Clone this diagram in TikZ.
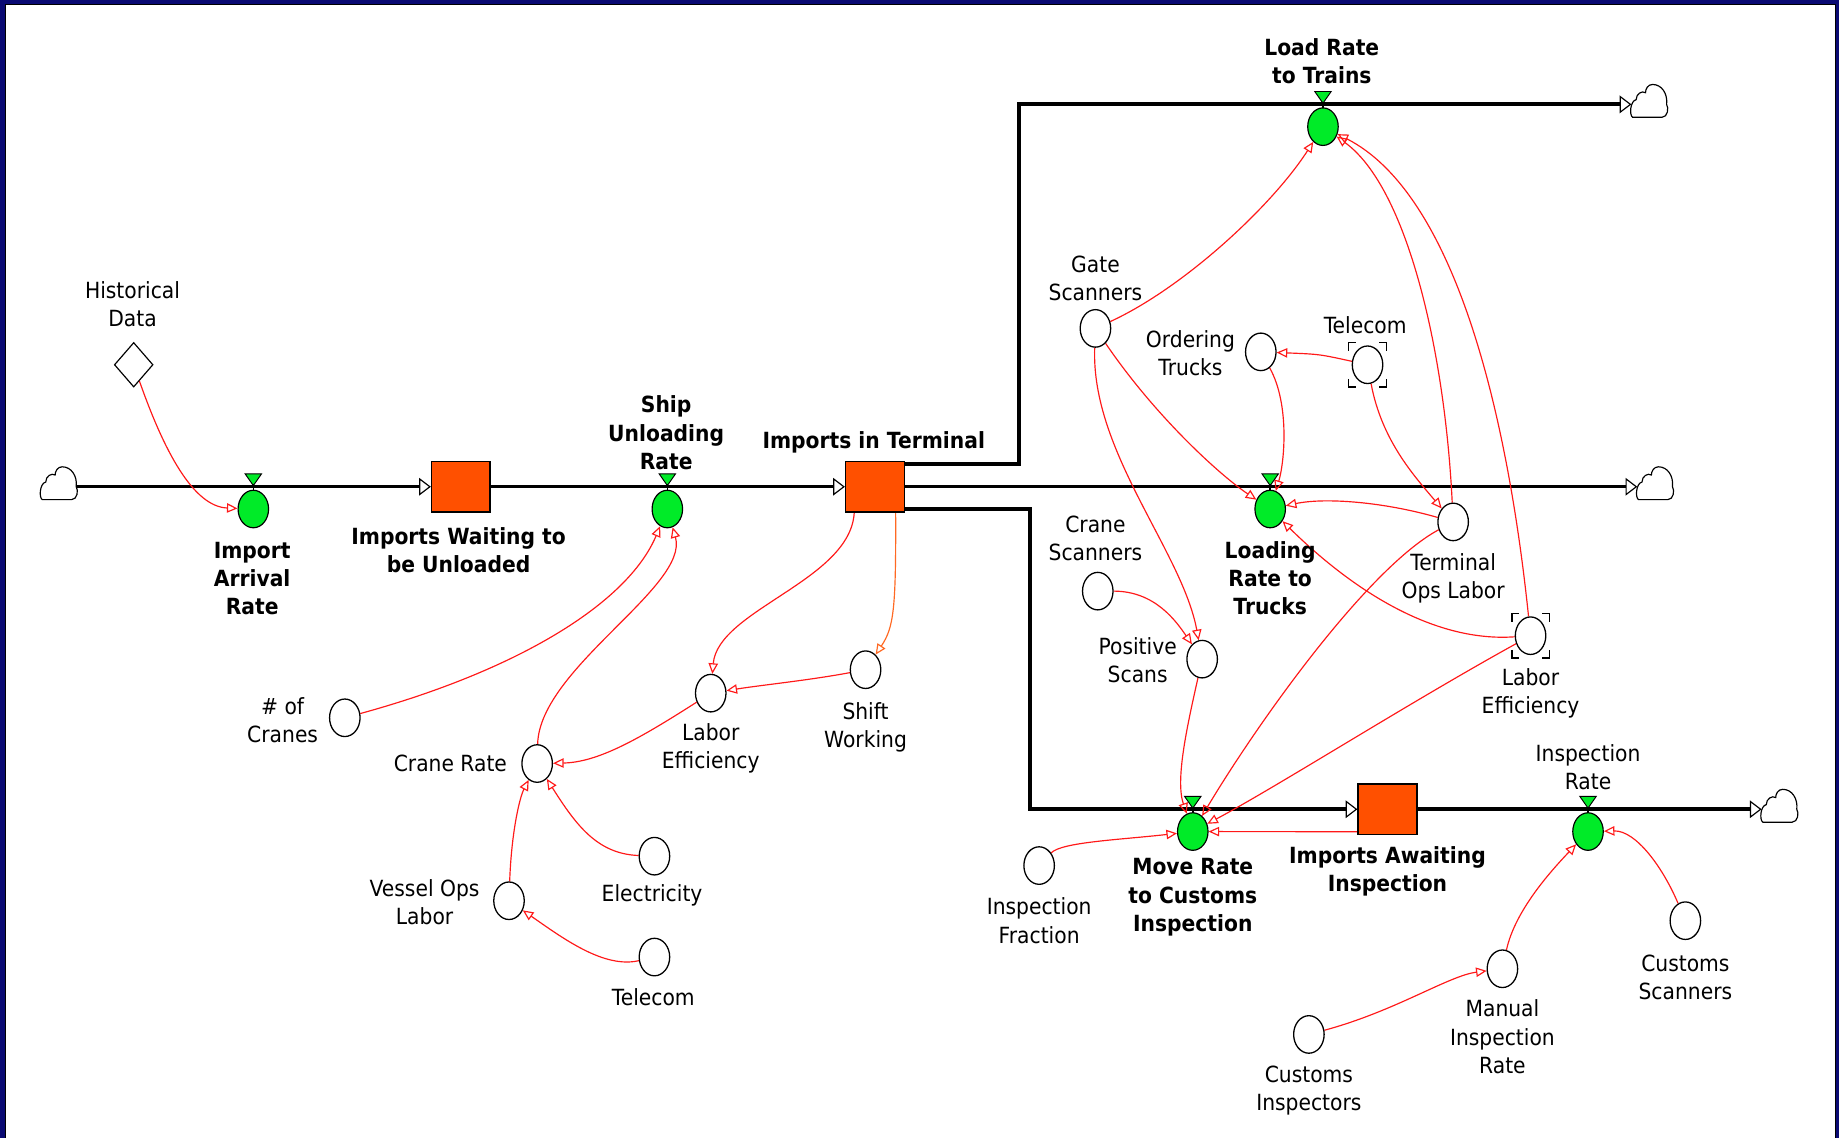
\documentclass[tikz,border=0pt]{standalone}
\usepackage{fontspec}
\setmainfont{DejaVu Sans}[FakeStretch=0.91]
\usetikzlibrary{arrows.meta,shapes.geometric,calc}
\definecolor{stockfill}{RGB}{255,80,0}
\definecolor{valvegreen}{RGB}{0,235,40}
\definecolor{framenavy}{RGB}{10,10,115}
\definecolor{linkred}{RGB}{255,25,25}
\definecolor{linkorange}{RGB}{255,105,35}
\pgfdeclarelayer{frame}
\pgfdeclarelayer{back}
\pgfsetlayers{frame,back,main}

\tikzset{
  valve/.pic={
    \draw[line width=0.8pt, fill=valvegreen] (-7,-11) -- (7,-11) -- (0,-1) -- cycle;
    \draw[line width=1.4pt] (0,-2) -- (0,5);
    \node[ellipse, draw, line width=1pt, fill=valvegreen, minimum width=26pt,
          minimum height=32pt, inner sep=0pt] (-b) at (0,19) {};
  },
  cloudsym/.pic={
    \draw[line width=1pt, fill=white] (-14,13) -- (11,13)
      .. controls (16,13) and (17,5) .. (15,2)
      .. controls (16,-7) and (11,-15) .. (3,-15)
      .. controls (-1,-15) and (-3,-11) .. (-3,-8)
      .. controls (-6,-10) and (-11,-7) .. (-11,-2)
      .. controls (-16,-1) and (-17,11) .. (-14,13) -- cycle;
    \coordinate (-w) at (-15,2);
    \coordinate (-e) at (16,2);
  },
  ghost/.pic={
    \draw[line width=1.2pt] (-16,-12) -- (-16,-19) -- (-10,-19);
    \draw[line width=1.2pt] (10,-19) -- (16,-19) -- (16,-12);
    \draw[line width=1.2pt] (-16,12) -- (-16,19) -- (-10,19);
    \draw[line width=1.2pt] (10,19) -- (16,19) -- (16,12);
  }
}

\begin{document}
\begin{tikzpicture}[x=1pt,y=-1pt,
  every node/.style={font=\fontsize{19}{24}\selectfont},
  lbl/.style={align=center, inner sep=0pt},
  blbl/.style={align=center, inner sep=0pt, font=\fontsize{19}{24}\selectfont\bfseries},
  auxv/.style={ellipse, draw, line width=1.1pt, fill=white, minimum width=26pt,
               minimum height=32pt, inner sep=0pt},
  stock/.style={rectangle, draw, line width=1.3pt, fill=stockfill,
                minimum width=50pt, minimum height=43pt, inner sep=0pt},
  flow/.style={line width=2.6pt, line join=miter,
               -{Triangle[length=10pt, width=15pt, fill=white, line width=1pt]}},
  flowthick/.style={flow, line width=3.4pt},
  link/.style={draw=linkred, line width=1pt,
               -{Triangle[open, length=9pt, width=8pt, line width=1pt]}}
]
\useasboundingbox (0,0) rectangle (1568,970);
\begin{pgfonlayer}{frame}
  \fill[framenavy] (0,0) rectangle (1568,970);
  \fill[white] (5,4) rectangle (1565,970);
  \draw[black, line width=1pt] (5,970) -- (5,4) -- (1565,4) -- (1565,970);
\end{pgfonlayer}

% ---------- stocks ----------
\node[stock] (iwu) at (393,415) {};
\node[stock] (iit) at (746,415) {};
\node[stock] (iai) at (1183,690) {};

% ---------- sources and sinks ----------
\pic (cl) at (50,413) {cloudsym};
\pic (ct) at (1406,87) {cloudsym};
\pic (cm) at (1411,413) {cloudsym};
\pic (cb) at (1517,688) {cloudsym};

% ---------- rates ----------
\pic (iar) at (216,415) {valve};
\pic (sur) at (569,415) {valve};
\pic (ltr) at (1128,89) {valve};
\pic (lrt) at (1083,415) {valve};
\pic (mrc) at (1017,690) {valve};
\pic (ir) at (1354,690) {valve};

% ---------- data and auxiliaries ----------
\node[diamond, draw, line width=1pt, fill=white, minimum width=33pt,
      minimum height=38pt, inner sep=0pt] (hd) at (114,311) {};
\node[auxv] (ncr) at (294,612) {};
\node[auxv] (cr) at (458,651) {};
\node[auxv] (le1) at (606,591) {};
\node[auxv] (sw) at (738,571) {};
\node[auxv] (el) at (558,730) {};
\node[auxv] (vol) at (434,768) {};
\node[auxv] (tel1) at (558,816) {};
\node[auxv] (gs) at (934,280) {};
\node[auxv] (ot) at (1075,300) {};
\node[auxv] (tel2) at (1166,311) {};
\node[auxv] (cs) at (936,504) {};
\node[auxv] (ps) at (1025,562) {};
\node[auxv] (tol) at (1239,445) {};
\node[auxv] (le2) at (1305,542) {};
\node[auxv] (ifr) at (886,738) {};
\node[auxv] (ci) at (1116,882) {};
\node[auxv] (mir) at (1281,826) {};
\node[auxv] (cus) at (1437,785) {};
\pic at (tel2) {ghost};
\pic at (le2) {ghost};

% ---------- labels ----------
\node[lbl] (t-hd) at (113,259) {Historical\\Data};
\node[blbl] (t-iar) at (215,493) {Import\\Arrival\\Rate};
\node[blbl] (t-iwu) at (391,469) {Imports Waiting to\\be Unloaded};
\node[blbl] (t-sur) at (568,369) {Ship\\Unloading\\Rate};
\node[blbl] (t-iit) at (745,377) {Imports in Terminal};
\node[blbl] (t-ltr) at (1127,52) {Load Rate\\to Trains};
\node[blbl] (t-lrt) at (1083,493) {Loading\\Rate to\\Trucks};
\node[blbl] (t-mrc) at (1017,765) {Move Rate\\to Customs\\Inspection};
\node[blbl] (t-iai) at (1183,743) {Imports Awaiting\\Inspection};
\node[lbl] (t-ir) at (1354,654) {Inspection\\Rate};
\node[lbl] (t-ncr) at (241,614) {\# of\\Cranes};
\node[lbl] (t-cr) at (384,651) {Crane Rate};
\node[lbl] (t-le1) at (606,638) {Labor\\Efficiency};
\node[lbl] (t-sw) at (738,620) {Shift\\Working};
\node[lbl] (t-el) at (556,763) {Electricity};
\node[lbl] (t-vol) at (362,769) {Vessel Ops\\Labor};
\node[lbl] (t-tel1) at (557,850) {Telecom};
\node[lbl] (t-gs) at (934,237) {Gate\\Scanners};
\node[lbl] (t-ot) at (1015,301) {Ordering\\Trucks};
\node[lbl] (t-tel2) at (1164,277) {Telecom};
\node[lbl] (t-cs) at (934,459) {Crane\\Scanners};
\node[lbl] (t-ps) at (970,563) {Positive\\Scans};
\node[lbl] (t-tol) at (1239,493) {Terminal\\Ops Labor};
\node[lbl] (t-le2) at (1305,591) {Labor\\Efficiency};
\node[lbl] (t-ifr) at (886,785) {Inspection\\Fraction};
\node[lbl] (t-ci) at (1116,930) {Customs\\Inspectors};
\node[lbl] (t-mir) at (1281,884) {Manual\\Inspection\\Rate};
\node[lbl] (t-cus) at (1437,833) {Customs\\Scanners};

% ---------- flows and links ----------
\begin{pgfonlayer}{back}
  \draw[flow] (cl-e) -- (iwu.west);
  \draw[flow] (iwu.east) -- (iit.west);
  \draw[flow] (iit.east) -- (cm-w);
  \draw[flowthick] ([yshift=-3pt]iit.north east) -| (869,89) -- (ct-w);
  \draw[flowthick] ([yshift=3pt]iit.south east) -| (878,690) -- (iai.west);
  \draw[flowthick] (iai.east) -- (cb-w);

  \draw[link] (hd) .. controls (140,385) and (165,432) .. (iar-b);
  \draw[link] (ncr) .. controls (440,572) and (535,515) .. (sur-b);
  \draw[link] (cr) .. controls (460,570) and (588,500) .. (sur-b);
  \draw[link] ([xshift=8pt]iit.south west) .. controls (725,495) and (612,520) .. (le1);
  \draw[link, draw=linkorange] ([xshift=-8pt]iit.south east) .. controls (764,520) and (762,535) .. (sw);
  \draw[link] (sw) .. controls (690,580) and (650,584) .. (le1);
  \draw[link] (le1) .. controls (545,630) and (510,650) .. (cr);
  \draw[link] (el) .. controls (510,728) and (492,705) .. (cr);
  \draw[link] (vol) .. controls (436,710) and (443,680) .. (cr);
  \draw[link] (tel1) .. controls (515,826) and (480,800) .. (vol);
  \draw[link] (gs) .. controls (1010,245) and (1085,175) .. (ltr-b);
  \draw[link] (gs) .. controls (985,355) and (1040,405) .. (lrt-b);
  \draw[link] (gs) .. controls (930,385) and (1008,470) .. (ps);
  \draw[link] (ot) .. controls (1100,345) and (1095,395) .. (lrt-b);
  \draw[link] (tel2) .. controls (1125,302) .. (ot);
  \draw[link] (tel2) .. controls (1178,375) and (1205,405) .. (tol);
  \draw[link] (tol) .. controls (1232,300) and (1200,160) .. (ltr-b);
  \draw[link] (le2) .. controls (1285,350) and (1240,165) .. (ltr-b);
  \draw[link] (tol) .. controls (1180,428) and (1130,424) .. (lrt-b);
  \draw[link] (le2) .. controls (1220,548) and (1150,500) .. (lrt-b);
  \draw[link] (cs) .. controls (985,504) and (1003,530) .. (ps);
  \draw[link] (ps) .. controls (1012,620) and (1002,665) .. (mrc-b);
  \draw[link] (tol) .. controls (1165,485) and (1070,620) .. (mrc-b);
  \draw[link] (le2) .. controls (1200,600) and (1090,670) .. (mrc-b);
  \draw[link] ([yshift=3pt]iai.south west) -- (mrc-b);
  \draw[link] (ifr) .. controls (905,718) and (955,716) .. (mrc-b);
  \draw[link] (mir) .. controls (1292,775) and (1325,740) .. (ir-b);
  \draw[link] (ci) .. controls (1190,862) and (1235,832) .. (mir);
  \draw[link] (cus) .. controls (1418,740) and (1395,708) .. (ir-b);
\end{pgfonlayer}
\end{tikzpicture}
\end{document}
